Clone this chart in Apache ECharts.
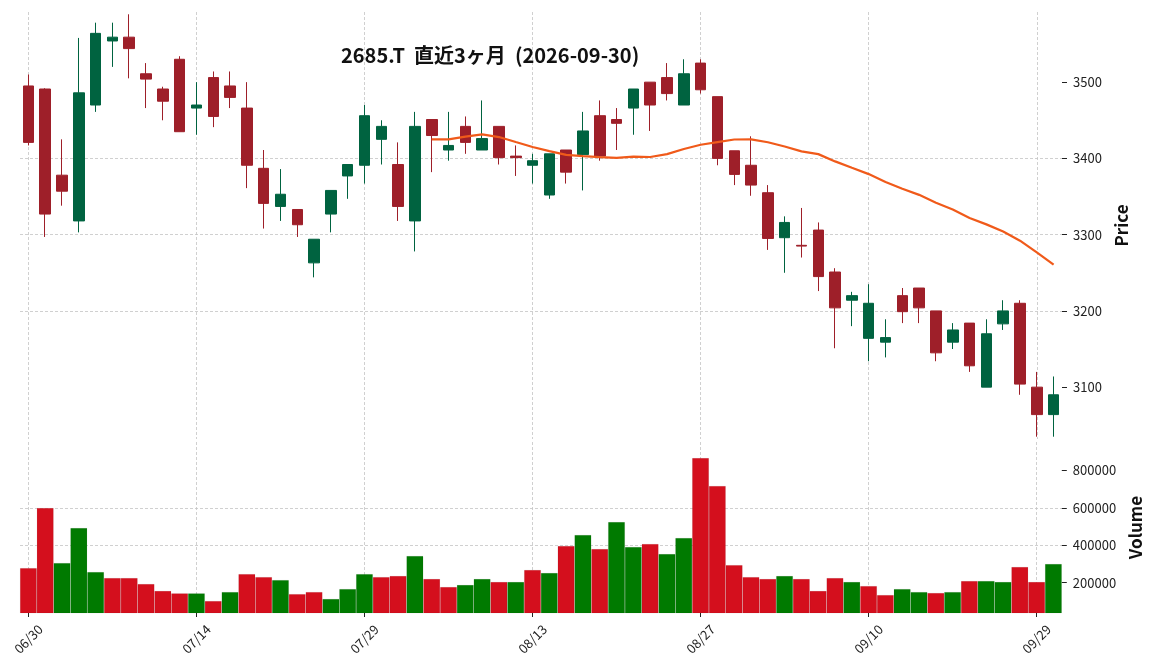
<!DOCTYPE html>
<html>
<head>
<meta charset="utf-8">
<title>2685.T 直近3ヶ月</title>
<script src="https://cdn.jsdelivr.net/npm/echarts@6/dist/echarts.min.js"></script>
<style>
    html, body { margin: 0; padding: 0; background: #fff; }
    #chart { width: 1152px; height: 670px; }
</style>
</head>
<body>
<div id="chart"></div>
<script>
// 日付（営業日）
var dates = [
    '06/30', '07/01', '07/02', '07/03', '07/06', '07/07', '07/08', '07/09', '07/10', '07/13',
    '07/14', '07/15', '07/16', '07/17', '07/21', '07/22', '07/23', '07/24', '07/27', '07/28',
    '07/29', '07/30', '07/31', '08/03', '08/04', '08/05', '08/06', '08/07', '08/10', '08/12',
    '08/13', '08/14', '08/17', '08/18', '08/19', '08/20', '08/21', '08/24', '08/25', '08/26',
    '08/27', '08/28', '08/31', '09/01', '09/02', '09/03', '09/04', '09/07', '09/08', '09/09',
    '09/10', '09/11', '09/14', '09/15', '09/16', '09/17', '09/18', '09/24', '09/25', '09/28',
    '09/29', '09/30'
];

var opens = [
    3495, 3491, 3378, 3318, 3470, 3554, 3559, 3511, 3491, 3530,
    3466, 3506, 3495, 3466, 3387, 3337, 3333, 3263, 3327, 3377,
    3391, 3425, 3392, 3318, 3451, 3411, 3442, 3411, 3442, 3403,
    3391, 3352, 3411, 3405, 3456, 3451, 3466, 3500, 3506, 3470,
    3525, 3481, 3410, 3391, 3355, 3296, 3286, 3306, 3251, 3214,
    3164, 3159, 3220, 3230, 3200, 3159, 3184, 3100, 3183, 3210,
    3100, 3064
];
var highs = [
    3510, 3492, 3425, 3558, 3578, 3578, 3589, 3525, 3494, 3534,
    3500, 3514, 3514, 3500, 3411, 3386, 3333, 3294, 3358, 3392,
    3470, 3450, 3421, 3461, 3451, 3461, 3455, 3476, 3442, 3417,
    3406, 3406, 3411, 3461, 3476, 3466, 3491, 3500, 3525, 3530,
    3530, 3481, 3410, 3429, 3365, 3324, 3335, 3316, 3256, 3225,
    3235, 3189, 3230, 3230, 3200, 3184, 3184, 3189, 3214, 3214,
    3120, 3114
];
var lows = [
    3417, 3297, 3338, 3303, 3461, 3520, 3505, 3466, 3450, 3435,
    3431, 3441, 3466, 3361, 3308, 3318, 3297, 3244, 3303, 3347,
    3367, 3392, 3318, 3278, 3382, 3397, 3406, 3411, 3392, 3377,
    3367, 3347, 3367, 3358, 3397, 3411, 3431, 3436, 3476, 3470,
    3485, 3391, 3365, 3351, 3280, 3250, 3270, 3226, 3151, 3180,
    3134, 3139, 3184, 3184, 3134, 3150, 3120, 3100, 3175, 3090,
    3035, 3035
];
var closes = [
    3421, 3327, 3357, 3486, 3564, 3559, 3544, 3504, 3475, 3435,
    3470, 3455, 3480, 3391, 3341, 3353, 3313, 3294, 3358, 3392,
    3456, 3442, 3337, 3442, 3430, 3417, 3421, 3426, 3401, 3401,
    3397, 3406, 3382, 3436, 3403, 3446, 3491, 3470, 3485, 3511,
    3490, 3400, 3379, 3365, 3295, 3316, 3285, 3245, 3204, 3220,
    3210, 3165, 3199, 3204, 3145, 3175, 3128, 3170, 3200, 3104,
    3064, 3090
];

// 出来高
var volumes = [
    278000, 599000, 305000, 492000, 257000, 225000, 225000, 193000, 156000, 143000,
    143000, 102000, 150000, 246000, 230000, 214000, 139000, 150000, 113000, 166000,
    246000, 230000, 236000, 343000, 220000, 177000, 188000, 220000, 204000, 204000,
    268000, 252000, 396000, 455000, 380000, 524000, 391000, 407000, 353000, 439000,
    866000, 717000, 294000, 230000, 220000, 236000, 220000, 156000, 225000, 204000,
    182000, 134000, 166000, 150000, 145000, 150000, 209000, 209000, 204000, 284000,
    204000, 300000
];

var priceTicks = [3100, 3200, 3300, 3400, 3500];
var volumeTicks = [200000, 400000, 600000, 800000];

var FONT = '"Noto Sans CJK JP", "Noto Sans", sans-serif';

// 移動平均（25日）
function sma(values, n) {
    var out = [];
    for (var i = 0; i < values.length; i++) {
        if (i < n - 1) { out.push('-'); continue; }
        var s = 0;
        for (var j = i - n + 1; j <= i; j++) s += values[j];
        out.push(+(s / n).toFixed(2));
    }
    return out;
}

var candles = dates.map(function (d, i) {
    return [opens[i], closes[i], lows[i], highs[i]];
});

// 出来高の色は前日終値との比較
var volumeData = volumes.map(function (v, i) {
    var up = i === 0 ? closes[i] >= opens[i] : closes[i] >= closes[i - 1];
    return { value: v, itemStyle: { color: up ? '#007a00' : '#d40f1d' } };
});

var gridLine = { color: '#c4c4c4', type: [3, 2], width: 0.8 };
var plain = function (v) { return String(v); };

var chart = echarts.init(document.getElementById('chart'));

var option = {
    animation: false,
    backgroundColor: '#fff',
    textStyle: { fontFamily: FONT },
    title: {
        text: '2685.T  直近3ヶ月  (2026-09-30)',
        left: 336,
        top: 40,
        textStyle: { fontFamily: FONT, fontSize: 20, fontWeight: 'bold', color: '#111' }
    },
    grid: [
        { left: 20, right: 90, top: 12, height: 427 },
        { left: 20, right: 90, top: 442, height: 171 }
    ],
    xAxis: [
        {
            type: 'category', gridIndex: 0, data: dates, boundaryGap: true,
            axisLine: { show: false }, axisTick: { show: false }, axisLabel: { show: false },
            splitLine: { show: true, interval: 9, alignWithLabel: true, lineStyle: gridLine }
        },
        {
            type: 'category', gridIndex: 1, data: dates, boundaryGap: true,
            axisLine: { show: false },
            axisTick: { show: true, interval: 9, alignWithLabel: true, length: 4, lineStyle: { color: '#222' } },
            axisLabel: {
                interval: 9, rotate: 45, fontSize: 13, color: '#222', margin: 26,
                align: 'center', verticalAlign: 'middle', fontFamily: FONT
            },
            splitLine: { show: true, interval: 9, alignWithLabel: true, lineStyle: gridLine }
        }
    ],
    yAxis: [
        {
            type: 'value', gridIndex: 0, position: 'right', scale: true,
            min: 3032, max: 3592,
            name: 'Price', nameLocation: 'middle', nameRotate: 90, nameGap: 41,
            nameTextStyle: { fontSize: 17, fontWeight: 'bold', color: '#111', fontFamily: FONT },
            axisLine: { show: false },
            axisTick: { show: true, length: 5, customValues: priceTicks, lineStyle: { color: '#222' } },
            axisLabel: { customValues: priceTicks, formatter: plain, fontSize: 13, color: '#222', margin: 11, fontFamily: FONT },
            splitLine: { show: true, showMinLine: false, showMaxLine: false, lineStyle: gridLine }
        },
        {
            type: 'value', gridIndex: 1, position: 'right',
            min: 38000, max: 952000,
            name: 'Volume', nameLocation: 'middle', nameRotate: 90, nameGap: 56,
            nameTextStyle: { fontSize: 17, fontWeight: 'bold', color: '#111', fontFamily: FONT },
            axisLine: { show: false },
            axisTick: { show: true, length: 5, customValues: volumeTicks, lineStyle: { color: '#222' } },
            axisLabel: { customValues: volumeTicks, formatter: plain, fontSize: 13, color: '#222', margin: 11, fontFamily: FONT },
            splitLine: { show: true, showMinLine: false, showMaxLine: false, lineStyle: gridLine }
        }
    ],
    series: [
        {
            name: 'Price', type: 'candlestick', xAxisIndex: 0, yAxisIndex: 0,
            data: candles, barWidth: 11,
            itemStyle: {
                color: '#006340', color0: '#9e1f29',
                borderColor: '#006340', borderColor0: '#9e1f29', borderWidth: 1
            }
        },
        {
            name: 'MA25', type: 'line', xAxisIndex: 0, yAxisIndex: 0,
            data: sma(closes, 25), symbol: 'none', smooth: false,
            lineStyle: { color: '#f05a1a', width: 2.2 }
        },
        {
            name: 'Volume', type: 'bar', xAxisIndex: 1, yAxisIndex: 1,
            data: volumeData, barCategoryGap: '0%',
            itemStyle: { borderColor: 'rgba(0,0,0,0.12)', borderWidth: 0.5 }
        }
    ]
};

chart.setOption(option);
</script>
</body>
</html>
